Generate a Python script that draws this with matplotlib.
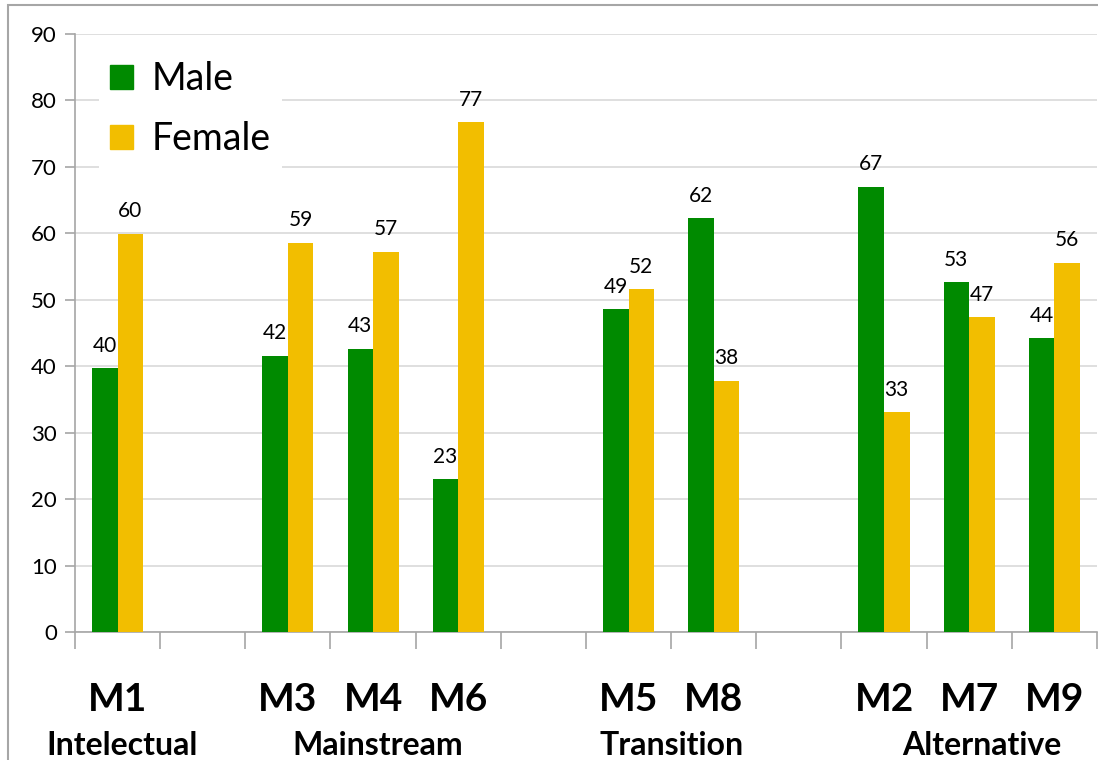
import matplotlib.pyplot as plt
from matplotlib.patches import Rectangle

# slots along the x axis; empty strings leave a gap between groups
slots = ["M1", "", "M3", "M4", "M6", "", "M5", "M8", "", "M2", "M7", "M9"]
male = [39.7, None, 41.6, 42.6, 23.0, None, 48.6, 62.3, None, 67.0, 52.6, 44.2]
female = [59.9, None, 58.6, 57.2, 76.7, None, 51.6, 37.8, None, 33.1, 47.4, 55.6]
groups = ["Intelectual", "Mainstream", "Transition", "Alternative"]
group_pos = [0.05, 3.05, 6.5, 10.15]

green = "#008a00"
yellow = "#f2be00"
font = "Lato"

fig = plt.figure(figsize=(10.98, 7.60), dpi=100)
ax = fig.add_axes([0.0683, 0.1684, 0.9307, 0.7869])

# outer chart frame
fig.patches.append(Rectangle((0.0075, -0.05), 1.2, 1.0435, transform=fig.transFigure,
                             fill=False, edgecolor="#a6a6a6", linewidth=1.5))

w = 0.3
for i, name in enumerate(slots):
    if not name:
        continue
    ax.bar(i - w / 2, male[i], w, color=green, zorder=3)
    ax.bar(i + w / 2, female[i], w, color=yellow, zorder=3)
    ax.annotate(f"{male[i]:.0f}", (i - w / 2, male[i]), xytext=(0, 9),
                textcoords="offset points", ha="center", va="bottom",
                fontsize=15, family=font)
    ax.annotate(f"{female[i]:.0f}", (i + w / 2, female[i]), xytext=(0, 9),
                textcoords="offset points", ha="center", va="bottom",
                fontsize=15, family=font)

ax.set_xlim(-0.5, len(slots) - 0.5)
ax.set_ylim(0, 90)
ax.set_yticks(range(0, 91, 10))
ax.set_xticks([x - 0.5 for x in range(len(slots) + 1)])
ax.set_xticklabels([])
ax.tick_params(axis="x", length=12, color="#a6a6a6", width=1.2)
ax.tick_params(axis="y", length=7, color="#a6a6a6", width=1.2, labelsize=16, pad=6)
for lab in ax.get_yticklabels():
    lab.set_family(font)

ax.grid(axis="y", color="#d9d9d9", linewidth=1.2, zorder=0)
for s in ["top", "right"]:
    ax.spines[s].set_visible(False)
for s in ["left", "bottom"]:
    ax.spines[s].set_color("#a6a6a6")
    ax.spines[s].set_linewidth(1.2)

# category and group labels under the axis
for i, name in enumerate(slots):
    if name:
        ax.text(i, -10.2, name, ha="center", va="center", fontsize=28,
                fontweight="bold", family=font, clip_on=False)
for g, x in zip(groups, group_pos):
    ax.text(x, -17.1, g, ha="center", va="center", fontsize=23,
            fontweight="bold", family=font, clip_on=False)

handles = [Rectangle((0, 0), 1, 1, color=green), Rectangle((0, 0), 1, 1, color=yellow)]
leg = ax.legend(handles, ["Male", "Female"], loc="upper left",
                bbox_to_anchor=(0.005, 1.005), frameon=True, fancybox=False,
                edgecolor="none", framealpha=1, handlelength=0.6, handleheight=0.6,
                handletextpad=0.5, labelspacing=0.65, borderpad=0.3,
                prop={"family": font, "size": 27})
leg.set_zorder(5)

fig.savefig("out.png", dpi=100)
